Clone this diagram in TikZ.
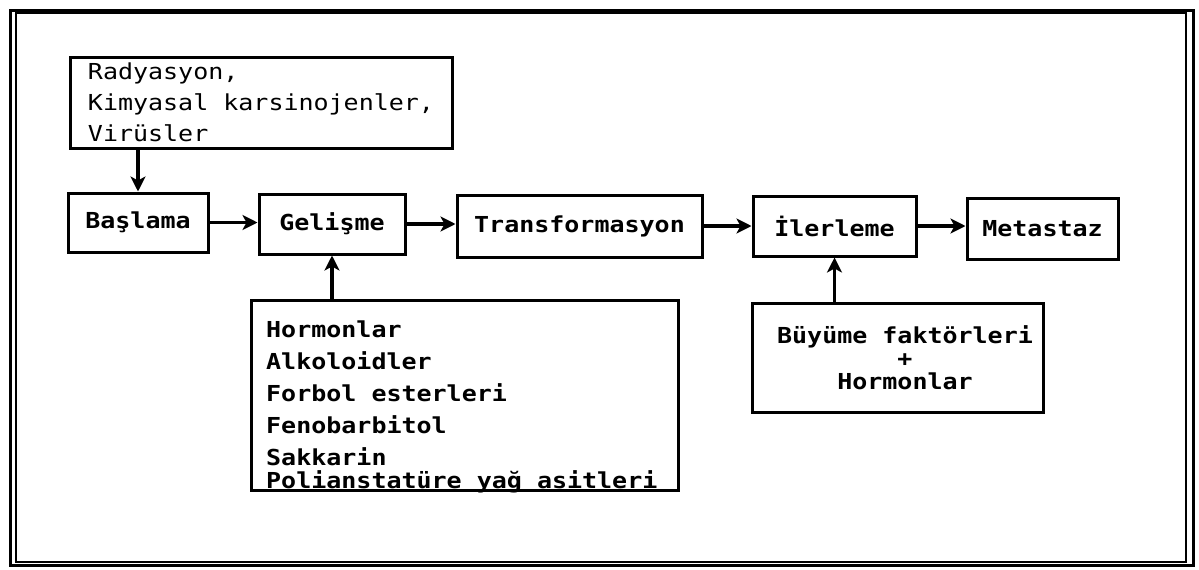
\documentclass[tikz,border=0pt]{standalone}
\usepackage{fontspec}
\newfontfamily\dm[FakeStretch=1.136]{DejaVu Sans Mono}
\usetikzlibrary{arrows.meta}
\begin{document}
\begin{tikzpicture}[x=1pt,y=-1pt,
  box/.style={draw, line width=3pt, inner sep=0pt, font=\dm\bfseries\fontsize{22}{31}\selectfont},
  conn/.style={line width=3.4pt, -{Stealth[length=15pt,width=15pt,inset=4pt]}},
  txt/.style={inner sep=0pt}]
\useasboundingbox (0,0) rectangle (1199,570);
% frame
\draw[line width=3pt] (10,10) rectangle (1193,565);
\draw[line width=2.4pt] (16,13) rectangle (1186,562);
% boxes
\node[box, minimum width=382pt, minimum height=91pt, align=left,
      font=\dm\fontsize{22}{31}\selectfont] (src) at (261,102.5)
      {Radyasyon,\\Kimyasal karsinojenler,\\Virüsler};
\node[box, minimum width=140pt, minimum height=59pt] (bas) at (138,222.5) {Başlama};
\node[box, minimum width=146pt, minimum height=60pt] (gel) at (332,224) {Gelişme};
\node[box, minimum width=245pt, minimum height=62pt] (tra) at (579.5,226) {Transformasyon};
\node[box, minimum width=163pt, minimum height=60pt] (ile) at (834.5,226) {İlerleme};
\node[box, minimum width=151pt, minimum height=61pt] (met) at (1042.5,228.5) {Metastaz};
\node[box, minimum width=427pt, minimum height=190pt] (hor) at (464.5,395) {};
\node[txt, anchor=north west, align=left, font=\dm\bfseries\fontsize{22}{32}\selectfont]
      (hortxt) at (266,321) {Hormonlar\\Alkoloidler\\Forbol esterleri\\Fenobarbitol\\Sakkarin\\[-9pt]Polianstatüre yağ asitleri};
\node[box, minimum width=291pt, minimum height=109pt] (buy) at (897.5,357.5) {};
\node[txt, align=center, font=\dm\bfseries\fontsize{22}{23}\selectfont]
      (buytxt) at (905,358) {Büyüme faktörleri\\+\\Hormonlar};
% connectors
\draw[conn] (bas.north |- src.south) -- (bas.north);
\draw[conn] (bas.east) -- (bas.east -| gel.west);
\draw[conn] (gel.east) -- (gel.east -| tra.west);
\draw[conn] (tra.east) -- (tra.east -| ile.west);
\draw[conn] (ile.east) -- (ile.east -| met.west);
\draw[conn] (gel.south |- hor.north) -- (gel.south);
\draw[conn] (ile.south |- buy.north) -- (ile.south);
\end{tikzpicture}
\end{document}
